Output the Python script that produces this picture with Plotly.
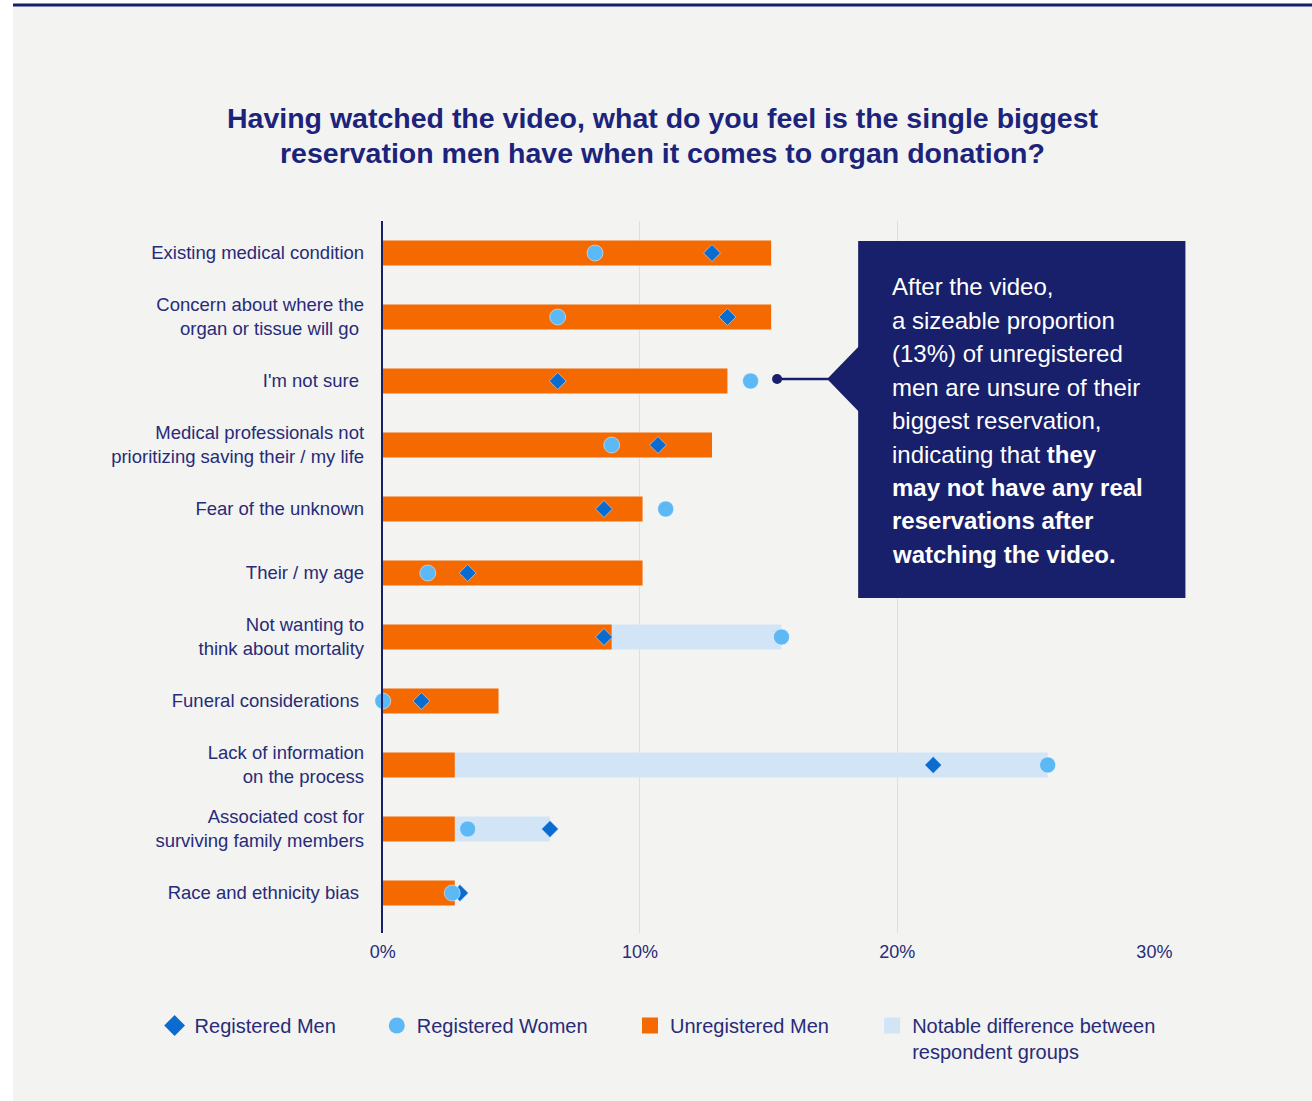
import plotly.graph_objects as go

# ---- data -------------------------------------------------------------
categories = [
    "Existing medical condition",
    "Concern about where the<br>organ or tissue will go ",
    "I'm not sure ",
    "Medical professionals not<br>prioritizing saving their / my life",
    "Fear of the unknown",
    "Their / my age",
    "Not wanting to<br>think about mortality",
    "Funeral considerations ",
    "Lack of information<br>on the process",
    "Associated cost for<br>surviving family members",
    "Race and ethnicity bias ",
]
unregistered_men = [15.1, 15.1, 13.4, 12.8, 10.1, 10.1, 8.9, 4.5, 2.8, 2.8, 2.8]
registered_men = [12.8, 13.4, 6.8, 10.7, 8.6, 3.3, 8.6, 1.5, 21.4, 6.5, 3.0]
registered_women = [8.25, 6.8, 14.3, 8.9, 11.0, 1.75, 15.5, 0.0, 25.85, 3.3, 2.7]
notable_difference = [False, False, False, False, False, False, True, False, True, True, False]

x_ticks = [0, 10, 20, 30]
x_tick_labels = ["0%", "10%", "20%", "30%"]

title_lines = [
    "Having watched the video, what do you feel is the single biggest",
    "reservation men have when it comes to organ donation?",
]
callout_lines = [
    "After the video,",
    "a sizeable proportion",
    "(13%) of unregistered",
    "men are unsure of their",
    "biggest reservation,",
    "indicating that <b>they</b>",
    "<b>may not have any real</b>",
    "<b>reservations after</b>",
    "<b>watching the video.</b>",
]

# ---- styling ----------------------------------------------------------
W, H = 1312, 1101
# horizontal frame the page lays the figure out in
FRAME_LEFT, FRAME_W = 12.5, 1280.0
FONT = "Liberation Sans, Arial, Helvetica, sans-serif"
NAVY = "#18206c"
TEXT = "#272b78"
ORANGE = "#f46a00"
DIAMOND = "#0a6bd0"
CIRCLE = "#5db8f6"
BAND = "#d1e5f7"
GRID = "#dedede"
BG = "#f3f3f1"


def px(x):
    return (x - FRAME_LEFT) / FRAME_W


def py(y):
    return 1 - y / H


rows = list(range(len(categories)))
bar_w = 0.39

fig = go.Figure()

# light band marking a notable gap between the groups
band_rows = [r for r in rows if notable_difference[r]]
band_base = [unregistered_men[r] for r in band_rows]
band_len = [max(registered_men[r], registered_women[r]) - unregistered_men[r] for r in band_rows]
fig.add_trace(go.Bar(
    y=band_rows, x=band_len, base=band_base, orientation="h", width=bar_w,
    marker=dict(color=BAND, line=dict(width=0)), showlegend=False, hoverinfo="skip",
))

fig.add_trace(go.Bar(
    y=rows, x=unregistered_men, orientation="h", width=bar_w,
    marker=dict(color=ORANGE, line=dict(width=0)), showlegend=False,
    name="Unregistered Men",
))

fig.add_trace(go.Scatter(
    y=rows, x=registered_men, mode="markers", cliponaxis=False,
    marker=dict(symbol="diamond", size=13, color=DIAMOND,
                line=dict(width=1, color="rgba(255,255,255,0.45)")),
    showlegend=False, name="Registered Men",
))
fig.add_trace(go.Scatter(
    y=rows, x=registered_women, mode="markers", cliponaxis=False,
    marker=dict(symbol="circle", size=16, color=CIRCLE,
                line=dict(width=1, color="rgba(255,255,255,0.45)")),
    showlegend=False, name="Registered Women",
))

# legend entries
legend_items = [
    ("Registered Men", "diamond", DIAMOND, 16, "legend"),
    ("Registered Women", "circle", CIRCLE, 16, "legend2"),
    ("Unregistered Men", "square", ORANGE, 16, "legend3"),
    ("Notable difference between<br>respondent groups", "square", BAND, 16, "legend4"),
]
for name, sym, col, size, leg in legend_items:
    fig.add_trace(go.Scatter(
        x=[None], y=[None], mode="markers", name=name, legend=leg,
        marker=dict(symbol=sym, size=size, color=col),
    ))

legend_font = dict(family=FONT, size=20, color=TEXT)
legend_common = dict(bgcolor="rgba(0,0,0,0)", borderwidth=0, font=legend_font,
                     xanchor="left", yanchor="top", valign="top",
                     itemclick=False, itemdoubleclick=False)
legend_y = py(1006)

shapes = [
    # page background and top rule
    dict(type="rect", xref="paper", yref="paper", x0=0, x1=1.05, y0=0, y1=py(5),
         fillcolor=BG, line=dict(width=0), layer="below"),
    dict(type="line", xref="paper", yref="paper", x0=0, x1=1.05, y0=py(5), y1=py(5),
         line=dict(color=NAVY, width=3), layer="below"),
    # callout card
    dict(type="rect", xref="paper", yref="paper", x0=px(857), x1=px(1184),
         y0=py(598), y1=py(241), fillcolor=NAVY, line=dict(width=0), layer="above"),
    dict(type="path", xref="paper", yref="paper",
         path=f"M {px(826)},{py(379)} L {px(858)},{py(346)} L {px(858)},{py(412)} Z",
         fillcolor=NAVY, line=dict(width=0), layer="above"),
    dict(type="line", xref="paper", yref="paper", x0=px(776), x1=px(830),
         y0=py(379), y1=py(379), line=dict(color=NAVY, width=2.5), layer="above"),
    dict(type="circle", xref="paper", yref="paper", x0=px(771), x1=px(781),
         y0=py(384), y1=py(374), fillcolor=NAVY, line=dict(width=0), layer="above"),
]

annotations = []
for i, line in enumerate(title_lines):
    annotations.append(dict(
        text=f"<b>{line}</b>", xref="paper", yref="paper", x=px(661), y=py(118 + 35 * i),
        xanchor="center", yanchor="middle", showarrow=False,
        font=dict(family=FONT, size=28.5, color="#1c237a"),
    ))
for i, line in enumerate(callout_lines):
    annotations.append(dict(
        text=line, xref="paper", yref="paper", x=px(889), y=py(287 + 33.4 * i),
        xanchor="left", yanchor="middle", showarrow=False, align="left",
        font=dict(family=FONT, size=24, color="#ffffff"),
    ))

fig.update_layout(
    width=W, height=H,
    margin=dict(l=0, r=0, t=0, b=0),
    paper_bgcolor="#ffffff",
    plot_bgcolor="rgba(0,0,0,0)",
    barmode="overlay",
    font=dict(family=FONT, color=TEXT),
    xaxis=dict(
        domain=[px(382), px(1153)], range=[0, 30],
        tickvals=x_ticks, ticktext=x_tick_labels,
        showgrid=True, gridcolor=GRID, gridwidth=1,
        zeroline=False, showline=False, ticks="",
        tickfont=dict(family=FONT, size=18, color=TEXT),
        ticklabelstandoff=6, fixedrange=True,
    ),
    yaxis=dict(
        domain=[py(933), py(221)], range=[10.625, -0.5],
        tickvals=rows, ticktext=categories,
        showgrid=False, zeroline=False,
        showline=True, linecolor=NAVY, linewidth=2, ticks="",
        tickfont=dict(family=FONT, size=18.5, color=TEXT),
        ticklabelstandoff=13, fixedrange=True,
    ),
    legend=dict(x=px(154), y=legend_y, **legend_common),
    legend2=dict(x=px(376), y=legend_y, **legend_common),
    legend3=dict(x=px(629), y=legend_y, **legend_common),
    legend4=dict(x=px(871), y=legend_y, **legend_common),
    shapes=shapes,
    annotations=annotations,
)

fig.write_html("out.html")
